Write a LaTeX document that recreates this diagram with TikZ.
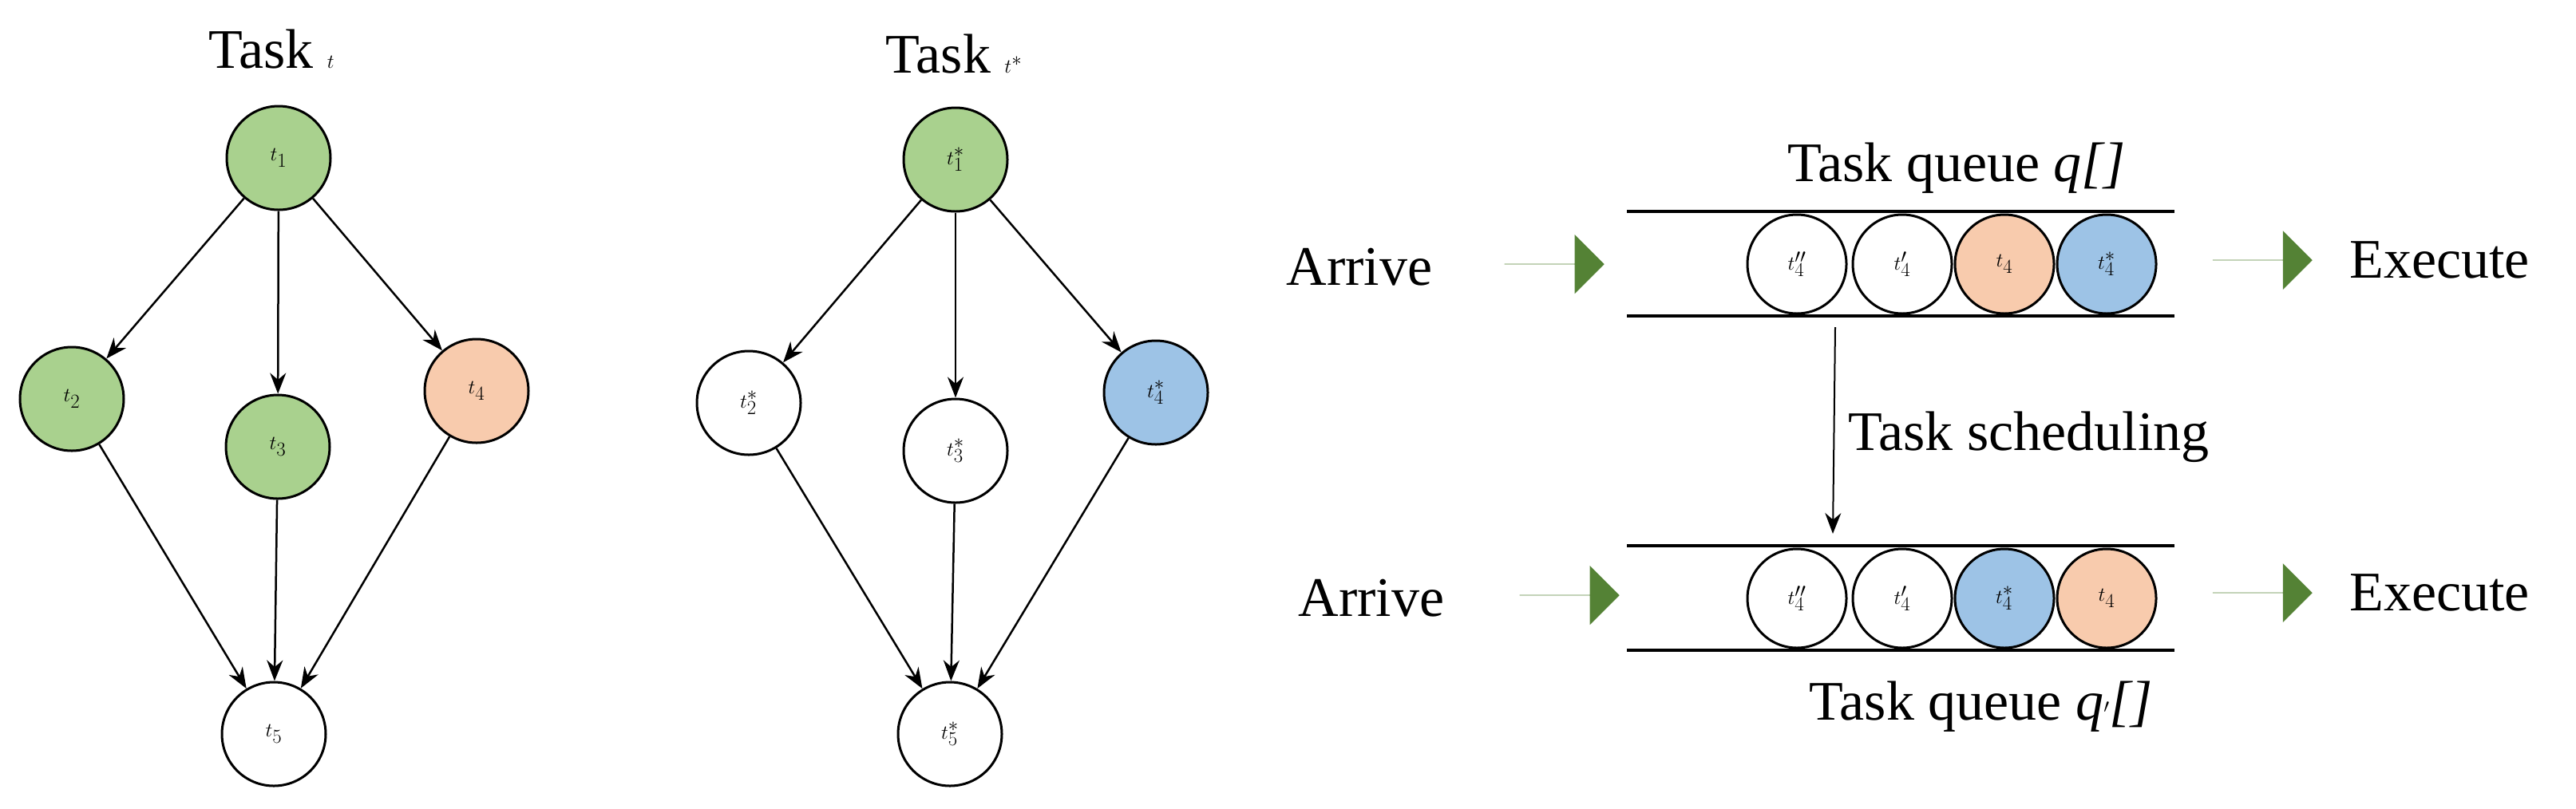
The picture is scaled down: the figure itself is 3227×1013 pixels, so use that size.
\documentclass[tikz,border=0pt]{standalone}
\usepackage{fontspec}
\setmainfont{Liberation Serif}
\usetikzlibrary{arrows.meta,shapes.arrows}
\definecolor{gn}{HTML}{A9D18E}
\definecolor{og}{HTML}{F8CBAD}
\definecolor{bl}{HTML}{9DC3E6}
\definecolor{ag}{HTML}{548235}
\begin{document}
\begin{tikzpicture}[x=1pt,y=-1pt,
  font=\fontsize{70}{80}\selectfont,
  tn/.style={circle,draw,line width=3pt,minimum size=130pt,inner sep=0pt,fill=white},
  qn/.style={circle,draw,line width=3pt,minimum size=124pt,inner sep=0pt,fill=white},
  ed/.style={line width=2.5pt,-{Stealth[length=26pt,width=20pt]}},
  fa/.style={single arrow,fill=ag,draw=none,minimum width=74pt,single arrow head extend=17pt,minimum height=125pt,inner sep=0pt,single arrow tip angle=90},
  ql/.style={line width=4pt}]
\useasboundingbox (0,0) rectangle (3227,1013);
% left graph
\node (ta) at (340,62) {Task $t$};
\node[tn,fill=gn] (a1) at (349,198) {$t_1$};
\node[tn,fill=gn] (a2) at (90,500) {$t_2$};
\node[tn,fill=gn] (a3) at (348,560) {$t_3$};
\node[tn,fill=og] (a4) at (597,490) {$t_4$};
\node[tn] (a5) at (343,920) {$t_5$};
\foreach \s/\t in {a1/a2,a1/a3,a1/a4,a2/a5,a3/a5,a4/a5} \draw[ed] (\s) -- (\t);
% middle graph
\node (tb) at (1195,68) {Task $t^*$};
\node[tn,fill=gn] (b1) at (1197,200) {$t_1^*$};
\node[tn] (b2) at (938,505) {$t_2^*$};
\node[tn] (b3) at (1197,565) {$t_3^*$};
\node[tn,fill=bl] (b4) at (1448,492) {$t_4^*$};
\node[tn] (b5) at (1190,920) {$t_5^*$};
\foreach \s/\t in {b1/b2,b1/b3,b1/b4,b2/b5,b3/b5,b4/b5} \draw[ed] (\s) -- (\t);
% top queue
\node (qa) at (2451,211) {Task queue \textit{q[]}};
\coordinate (l1a) at (2038,265); \coordinate (l1b) at (2724,265);
\coordinate (l2a) at (2038,396); \coordinate (l2b) at (2724,396);
\draw[ql] (l1a) -- (l1b); \draw[ql] (l2a) -- (l2b);
\node[qn] (p1) at (2251,331) {$t_4''$};
\node[qn] (p2) at (2383,331) {$t_4'$};
\node[qn,fill=og] (p3) at (2511,331) {$t_4$};
\node[qn,fill=bl] (p4) at (2639,331) {$t_4^*$};
\node (ar1) at (1703,335) {Arrive};
\node[fa] (fa1) at (1947,331) {};
\node[fa] (fb1) at (2834,326) {};
\node (ex1) at (3056,326) {Execute};
% bottom queue
\coordinate (m1a) at (2038,684); \coordinate (m1b) at (2724,684);
\coordinate (m2a) at (2038,815); \coordinate (m2b) at (2724,815);
\draw[ql] (m1a) -- (m1b); \draw[ql] (m2a) -- (m2b);
\node[qn] (r1) at (2251,750) {$t_4''$};
\node[qn] (r2) at (2383,750) {$t_4'$};
\node[qn,fill=bl] (r3) at (2511,750) {$t_4^*$};
\node[qn,fill=og] (r4) at (2639,750) {$t_4$};
\node (ar2) at (1718,750) {Arrive};
\node[fa] (fa2) at (1966,746) {};
\node[fa] (fb2) at (2834,743) {};
\node (ex2) at (3056,743) {Execute};
\node (qb) at (2482,886) {Task queue \textit{q$'$[]}};
% scheduling
\coordinate (s1) at (2299,410);
\coordinate (s2) at (2296,669);
\draw[ed,line width=2pt] (s1) -- (s2);
\node[anchor=west] (sl) at (2312,548) {Task scheduling};
\end{tikzpicture}
\end{document}
